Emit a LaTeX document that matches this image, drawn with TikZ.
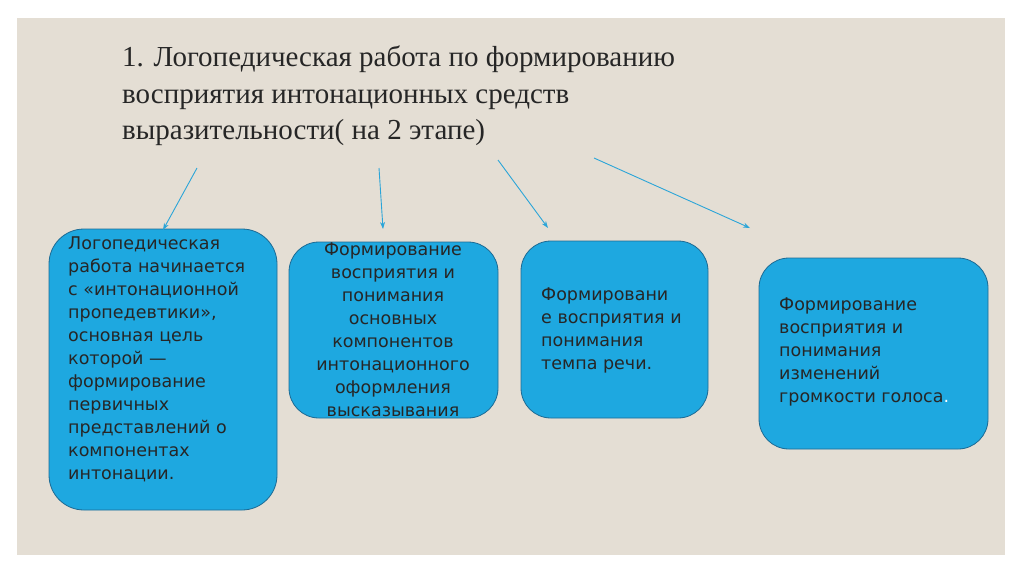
\documentclass[tikz,border=0pt]{standalone}
\usepackage{fontspec}
\setmainfont{Liberation Serif}
\newfontfamily\boxfont{DejaVu Sans}
\usetikzlibrary{arrows.meta}
\definecolor{panel}{HTML}{E4DED4}
\definecolor{boxfill}{HTML}{1EA8E0}
\definecolor{boxline}{HTML}{1C6A94}
\definecolor{arr}{HTML}{2BA5D8}
\definecolor{txt}{HTML}{262626}
\tikzset{
  bluebox/.style={draw=boxline,line width=0.8pt,fill=boxfill},
  boxtext/.style={font=\boxfont\fontsize{17.5}{23}\selectfont,text=txt,inner sep=0pt},
  conn/.style={draw=arr,line width=0.9pt,-{Stealth[length=7pt,width=5pt]}}
}
\begin{document}
\begin{tikzpicture}[x=1pt,y=-1pt]
\useasboundingbox (0,0) rectangle (1024,574);
\fill[white] (0,0) rectangle (1024,574);
\fill[panel] (17,18) rectangle (1005,555);
\node[anchor=north west,inner sep=0pt,font=\fontsize{29}{36.5}\selectfont,text=txt,align=left] (title) at (122,46)
 {1. Логопедическая работа по формированию\\восприятия интонационных средств\\выразительности( на 2 этапе)};
\draw[bluebox,rounded corners=35pt] (49,229) rectangle (277,510);
\draw[bluebox,rounded corners=30pt] (289,242) rectangle (498,418);
\draw[bluebox,rounded corners=30pt] (521,241) rectangle (708,418);
\draw[bluebox,rounded corners=30pt] (759,258) rectangle (988,449);
\coordinate (b1) at (163,230); \coordinate (b2) at (383,229);
\coordinate (b3) at (548,228); \coordinate (b4) at (750,228);
\coordinate (s1) at (197,168); \coordinate (s2) at (379,168);
\coordinate (s3) at (498,160); \coordinate (s4) at (594,158);
\node[boxtext,anchor=north west,align=left] (t1) at (68,237)
 {Логопедическая\\работа начинается\\с «интонационной\\пропедевтики»,\\основная цель\\которой —\\формирование\\первичных\\представлений о\\компонентах\\интонации.};
\node[boxtext,anchor=north,align=center] (t2) at (393,243)
 {Формирование\\восприятия и\\понимания\\основных\\компонентов\\интонационного\\оформления\\высказывания};
\node[boxtext,anchor=north west,align=left] (t3) at (541,288)
 {Формировани\\е восприятия и\\понимания\\темпа речи.};
\node[boxtext,anchor=north west,align=left] (t4) at (779,298)
 {Формирование\\восприятия и\\понимания\\изменений\\громкости голоса\textcolor{white}{.}};
\draw[conn] (s1) -- (b1);
\draw[conn] (s2) -- (b2);
\draw[conn] (s3) -- (b3);
\draw[conn] (s4) -- (b4);
\end{tikzpicture}
\end{document}
